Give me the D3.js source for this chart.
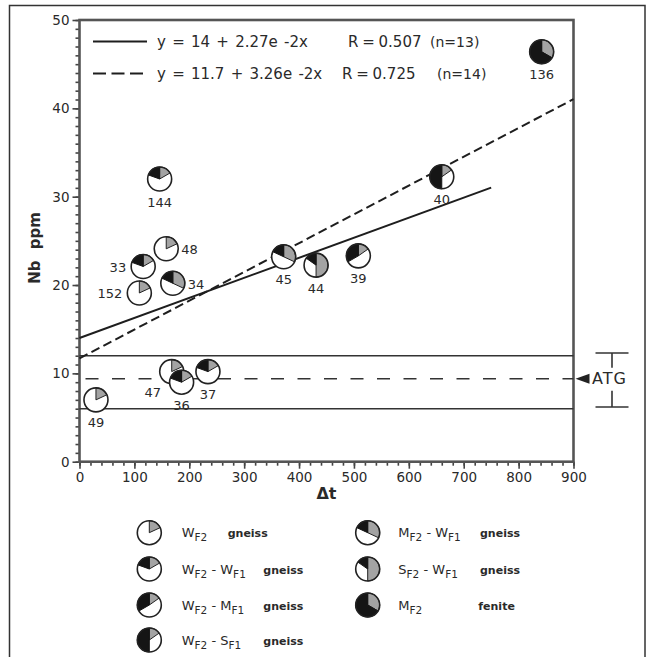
<!DOCTYPE html>
<html>
<head>
<meta charset="utf-8">
<script src="https://cdn.jsdelivr.net/npm/d3@7/dist/d3.min.js"></script>
<style>
  html, body { margin: 0; padding: 0; background: #fff; }
  svg { display: block; }
  text { font-family: "DejaVu Sans", Verdana, sans-serif; fill: #2a2a2a; }
</style>
</head>
<body>
<svg id="chart" width="647" height="657"></svg>
<script>
// Samples: Δt against Nb (ppm)
const sampleIds = ["48", "33", "152", "144", "34", "45", "44", "39", "40", "136", "47", "36", "37", "49"];
const deltaT    = [158, 116, 109, 146, 170, 372, 431, 508, 660, 842, 168, 186, 234, 30];
const nbPpm     = [24.1, 22.1, 19.1, 32.0, 20.2, 23.2, 22.25, 23.3, 32.25, 46.4, 10.2, 9.0, 10.2, 7.0];
const rockType  = ["WF2", "WF2-WF1", "WF2", "WF2-WF1", "MF2-WF1", "MF2-WF1", "SF2-WF1", "WF2-MF1", "WF2-SF1", "MF2", "WF2", "WF2-WF1", "WF2-WF1", "WF2"];
const labelSide = ["right", "left", "left", "below", "right", "below", "below", "below", "below", "below", "belowLeft", "below", "below", "below"];

// Rock classes: grey wedge from 12 o'clock to greyEnd, black wedge from blackStart round to 12 o'clock (degrees)
const classKeys   = ["WF2", "WF2-WF1", "WF2-MF1", "WF2-SF1", "MF2-WF1", "SF2-WF1", "MF2"];
const greyEnd     = [65, 60, 55, 55, 115, 180, 120];
const blackStart  = [360, 290, 240, 180, 295, 305, 120];
const classLabels = [
  [["W", "F2"]], [["W", "F2"], ["W", "F1"]], [["W", "F2"], ["M", "F1"]], [["W", "F2"], ["S", "F1"]],
  [["M", "F2"], ["W", "F1"]], [["S", "F2"], ["W", "F1"]], [["M", "F2"]]
];
const classRock   = ["gneiss", "gneiss", "gneiss", "gneiss", "gneiss", "gneiss", "fenite"];

// Regression lines
const fitIntercept = [14, 11.7];
const fitSlope     = [2.27e-2, 3.26e-2];
const fitXmax      = [750, 900];
const fitEquation  = ["y = 14 + 2.27e -2x", "y = 11.7 + 3.26e -2x"];
const fitR         = ["R = 0.507", "R = 0.725"];
const fitN         = ["(n=13)", "(n=14)"];

// ATG reference band
const atgMean = 9.4;
const atgBand = [6, 12];
const atgBar  = [6.2, 12.3];

const xTicks = d3.range(0, 901, 100);
const yTicks = d3.range(0, 51, 10);

const svg = d3.select("#chart");
const x = d3.scaleLinear().domain([0, 900]).range([79.5, 573.5]);
const y = d3.scaleLinear().domain([0, 50]).range([461.7, 20]);
const R = 12;

// outer frame
svg.append("rect").attr("x", 9.5).attr("y", 5.5).attr("width", 635.5).attr("height", 700)
  .attr("fill", "none").attr("stroke", "#333").attr("stroke-width", 1.5);

// axes with minor ticks
const axisCol = "#444";
function styleAxis(g) {
  g.select(".domain").remove();
  g.selectAll("line").attr("stroke", axisCol).attr("stroke-width", 1.6);
  g.selectAll("text").attr("font-size", 13.5).attr("fill", "#333")
    .attr("font-family", "DejaVu Sans, sans-serif");
}
svg.append("g").attr("transform", `translate(0,${y(0)})`)
  .call(d3.axisBottom(x).tickValues(d3.range(0, 901, 20)).tickSize(4).tickFormat(""))
  .call(styleAxis);
svg.append("g").attr("transform", `translate(0,${y(0)})`)
  .call(d3.axisBottom(x).tickValues(xTicks).tickSize(7).tickPadding(4).tickFormat(d3.format("d")))
  .call(styleAxis);
svg.append("g").attr("transform", `translate(${x(0)},0)`)
  .call(d3.axisLeft(y).tickValues(d3.range(0, 51, 1)).tickSize(4).tickFormat(""))
  .call(styleAxis);
svg.append("g").attr("transform", `translate(${x(0)},0)`)
  .call(d3.axisLeft(y).tickValues(yTicks).tickSize(7).tickPadding(3).tickFormat(d3.format("d")))
  .call(styleAxis);

// plot frame
svg.append("rect").attr("x", x(0)).attr("y", y(50))
  .attr("width", x(900) - x(0)).attr("height", y(0) - y(50))
  .attr("fill", "none").attr("stroke", "#555").attr("stroke-width", 2.6);

// axis titles
svg.append("text").attr("transform", `translate(40,248) rotate(-90)`)
  .attr("text-anchor", "middle").attr("font-size", 15).attr("font-weight", "bold")
  .attr("word-spacing", 6).text("Nb ppm");
svg.append("text").attr("x", x(450)).attr("y", 499).attr("text-anchor", "middle")
  .attr("font-size", 16).attr("font-weight", "bold").text("Δt");

// ATG band
const lineCol = "#333";
atgBand.forEach(v => {
  svg.append("line").attr("x1", x(0)).attr("x2", x(900)).attr("y1", y(v)).attr("y2", y(v))
    .attr("stroke", lineCol).attr("stroke-width", 1.5);
});
svg.append("line").attr("x1", x(0)).attr("x2", x(900)).attr("y1", y(atgMean)).attr("y2", y(atgMean))
  .attr("stroke", lineCol).attr("stroke-width", 1.5).attr("stroke-dasharray", "13,13.5")
  .attr("stroke-dashoffset", -6);

// ATG marker right of the plot
const ya = y(atgMean);
svg.append("path").attr("d", `M${x(900) + 2},${ya} L${x(900) + 16},${ya - 5} L${x(900) + 16},${ya + 5} Z`)
  .attr("fill", "#222");
svg.append("text").attr("x", 592).attr("y", ya).attr("dominant-baseline", "central")
  .attr("font-size", 16).attr("letter-spacing", 1).text("ATG");
const ex = 612, cw = 16.5;
[atgBar[0], atgBar[1]].forEach(v => {
  svg.append("line").attr("x1", ex - cw).attr("x2", ex + cw).attr("y1", y(v)).attr("y2", y(v))
    .attr("stroke", lineCol).attr("stroke-width", 1.6);
});
svg.append("line").attr("x1", ex).attr("x2", ex).attr("y1", y(atgBar[1])).attr("y2", ya - 11)
  .attr("stroke", lineCol).attr("stroke-width", 1.6);
svg.append("line").attr("x1", ex).attr("x2", ex).attr("y1", ya + 12).attr("y2", y(atgBar[0]))
  .attr("stroke", lineCol).attr("stroke-width", 1.6);

// regression lines
const dashes = [null, "9,4.5"];
fitIntercept.forEach((b, i) => {
  const pts = [0, fitXmax[i]].map(v => [x(v), y(b + fitSlope[i] * v)]);
  svg.append("path").attr("d", d3.line()(pts)).attr("fill", "none")
    .attr("stroke", "#1e1e1e").attr("stroke-width", 2)
    .attr("stroke-dasharray", dashes[i]);
});

// equation key
const keyY = [41.5, 73.5];
const rX = [348, 342], nX = [430, 437];
fitEquation.forEach((eq, i) => {
  svg.append("line").attr("x1", 93).attr("x2", 147).attr("y1", keyY[i]).attr("y2", keyY[i])
    .attr("stroke", "#1e1e1e").attr("stroke-width", 2.2)
    .attr("stroke-dasharray", i ? "13,5.5" : null);
  svg.append("text").attr("x", 157).attr("y", keyY[i]).attr("dominant-baseline", "central")
    .attr("font-size", 15).attr("word-spacing", 1.5).text(eq);
  svg.append("text").attr("x", rX[i]).attr("y", keyY[i]).attr("dominant-baseline", "central")
    .attr("font-size", 15).attr("word-spacing", -1).text(fitR[i]);
  svg.append("text").attr("x", nX[i]).attr("y", keyY[i]).attr("dominant-baseline", "central")
    .attr("font-size", 14).text(fitN[i]);
});

// pie glyph
const toRad = d => d * Math.PI / 180;
function glyph(g, key, r) {
  const k = classKeys.indexOf(key);
  const arc = d3.arc().innerRadius(0).outerRadius(r);
  g.append("circle").attr("r", r).attr("fill", "#fff");
  g.append("path").attr("d", arc({ startAngle: 0, endAngle: toRad(greyEnd[k]) }))
    .attr("fill", "#a3a3a3").attr("stroke", "#222").attr("stroke-width", 1);
  if (blackStart[k] < 360) {
    g.append("path").attr("d", arc({ startAngle: toRad(blackStart[k]), endAngle: 2 * Math.PI }))
      .attr("fill", "#151515").attr("stroke", "#151515").attr("stroke-width", 1);
  }
  g.append("circle").attr("r", r).attr("fill", "none").attr("stroke", "#222").attr("stroke-width", 1.6);
}

// samples
sampleIds.forEach((id, i) => {
  const g = svg.append("g").attr("transform", `translate(${x(deltaT[i])},${y(nbPpm[i])})`);
  glyph(g, rockType[i], R);
});
sampleIds.forEach((id, i) => {
  const cx = x(deltaT[i]), cy = y(nbPpm[i]);
  let lx = cx, ly = cy + 23, anchor = "middle";
  if (labelSide[i] === "left") { lx = cx - 17; ly = cy + 1; anchor = "end"; }
  if (labelSide[i] === "right") { lx = cx + 15; ly = cy + 1; anchor = "start"; }
  if (labelSide[i] === "belowLeft") { lx = cx - 19; ly = cy + 21; }
  svg.append("text").attr("x", lx).attr("y", ly).attr("text-anchor", anchor)
    .attr("dominant-baseline", "central").attr("font-size", 13).attr("fill", "#333").text(id);
});

// class legend
const legCol = [{ gx: 149.3, tx: 181.7 }, { gx: 367.7, tx: 398.3 }];
const legRows = [532.7, 569, 605, 640];
const rockX = [[227.7, 263.3, 263.3, 263.3], [480, 480, 478.3]];
classKeys.forEach((key, k) => {
  const c = k < 4 ? 0 : 1, row = k < 4 ? k : k - 4;
  const yy = legRows[row];
  const g = svg.append("g").attr("transform", `translate(${legCol[c].gx},${yy})`);
  glyph(g, key, R);
  const t = svg.append("text").attr("x", legCol[c].tx).attr("y", yy + 4.5).attr("font-size", 13);
  classLabels[k].forEach((part, j) => {
    if (j > 0) t.append("tspan").attr("dy", -4).text(" - ");
    t.append("tspan").attr("dy", j > 0 ? 0 : null).text(part[0]);
    t.append("tspan").attr("dy", 4).attr("font-size", 10.5).text(part[1]);
  });
  svg.append("text").attr("x", rockX[c][row]).attr("y", yy + 4.5).attr("font-size", 11)
    .attr("font-weight", "bold").text(classRock[k]);
});
</script>
</body>
</html>
